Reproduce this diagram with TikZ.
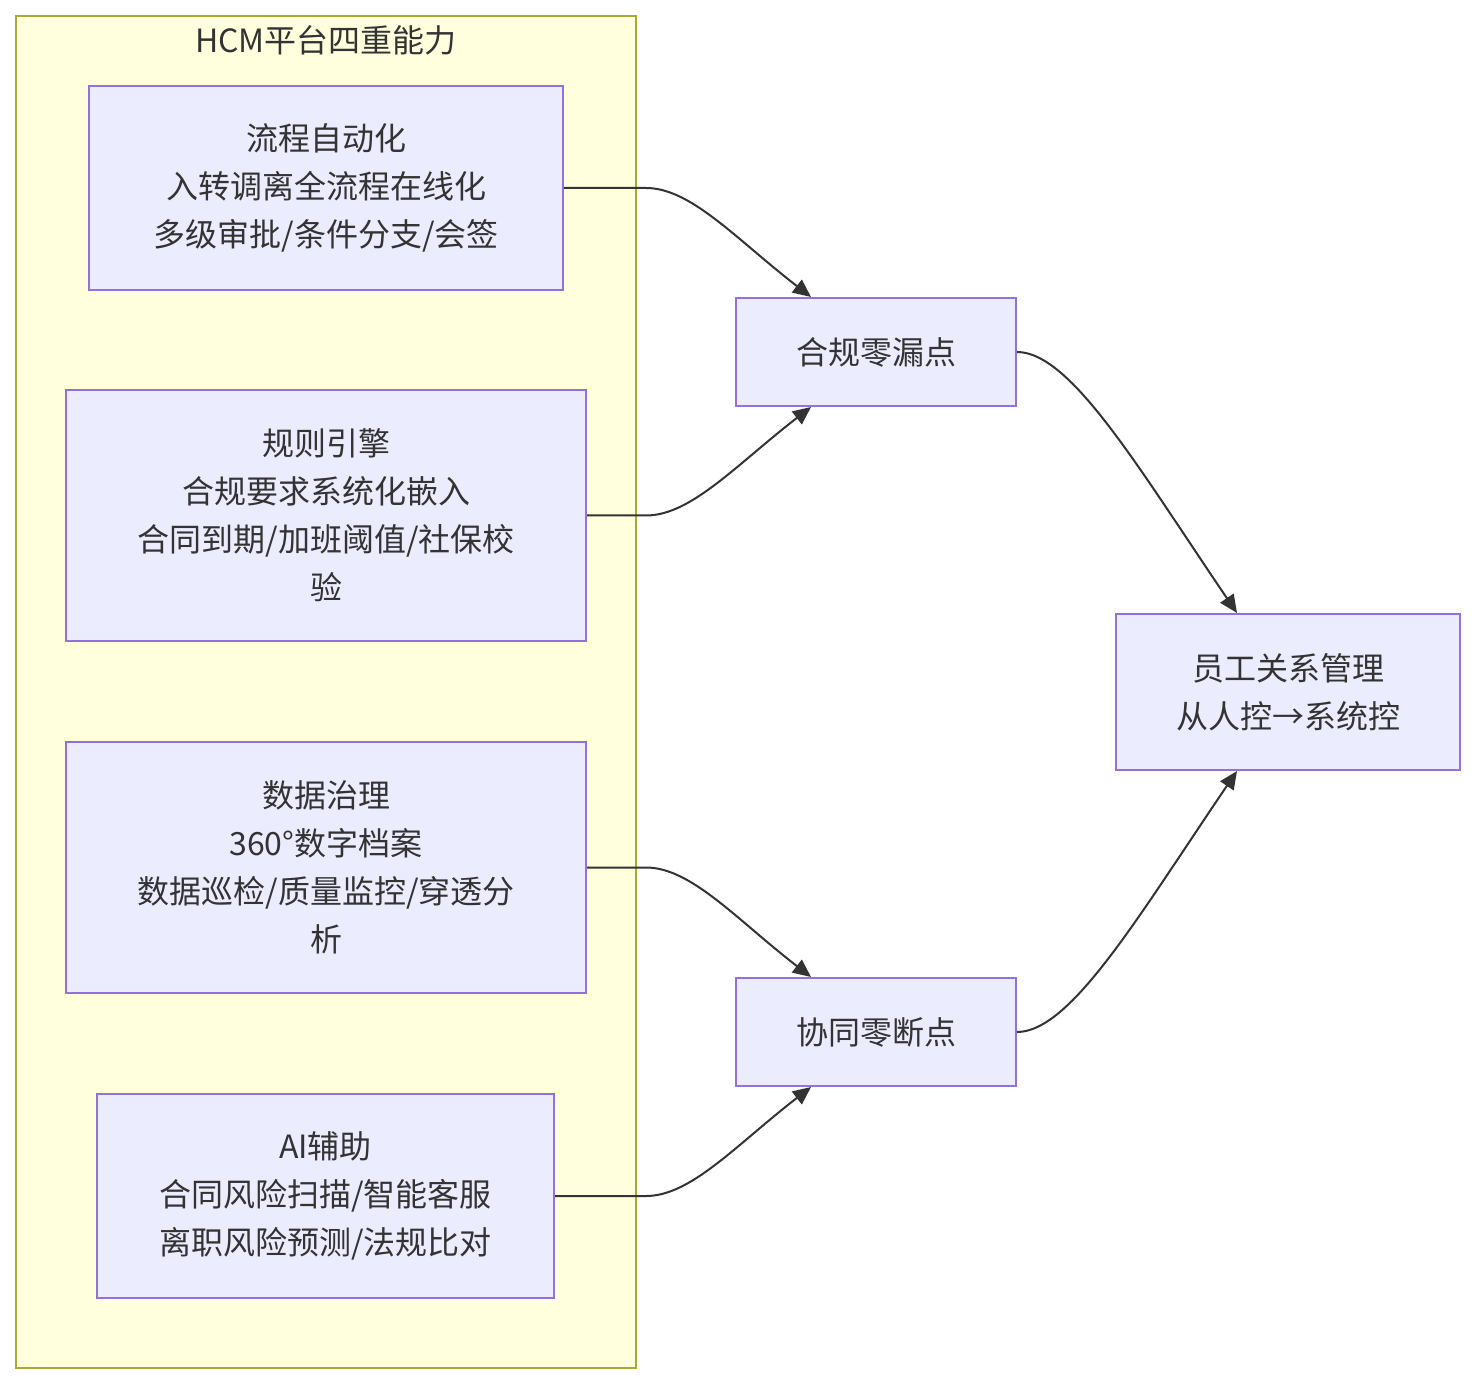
\documentclass[tikz,border=0pt]{standalone}
\usepackage{fontspec}
\setmainfont{Noto Sans CJK SC}
\usetikzlibrary{arrows.meta,calc}
\definecolor{boxfill}{HTML}{ECECFF}
\definecolor{boxline}{HTML}{9370DB}
\definecolor{grpfill}{HTML}{FFFFDE}
\definecolor{grpline}{HTML}{AAAA33}
\definecolor{ink}{HTML}{333333}
\tikzset{
	capbox/.style={draw=boxline, fill=boxfill, line width=1pt, align=center, inner sep=0pt, text=ink, font=\fontsize{16}{24}\selectfont},
	flow/.style={draw=ink, line width=1pt, -{Triangle[length=9pt,width=8pt]}}
}
\begin{document}
\begin{tikzpicture}[x=0.5pt,y=-0.5pt]
					\useasboundingbox (0,0) rectangle (1476,1384);
					\draw[fill=grpfill, draw=grpline, line width=1pt] (16,16) rectangle (636,1368);
					\node[text=ink, font=\fontsize{16}{24}\selectfont] (grptitle) at (326,40) {HCM平台四重能力};
					\node[capbox, minimum width=237pt, minimum height=102pt] (b1) at (326,188) {流程自动化\\入转调离全流程在线化\\多级审批/条件分支/会签};
					\node[capbox, minimum width=260pt, minimum height=125.5pt] (b2) at (326,515.5) {规则引擎\\合规要求系统化嵌入\\合同到期/加班阈值/社保校\\验};
					\node[capbox, minimum width=260pt, minimum height=125.5pt] (b3) at (326,867.5) {数据治理\\360°数字档案\\数据巡检/质量监控/穿透分\\析};
					\node[capbox, minimum width=228.5pt, minimum height=102pt] (b4) at (325.5,1196) {AI辅助\\合同风险扫描/智能客服\\离职风险预测/法规比对};
					\node[capbox, minimum width=140pt, minimum height=54pt] (comply) at (876,352) {合规零漏点};
					\node[capbox, minimum width=140pt, minimum height=54pt] (coop) at (876,1032) {协同零断点};
					\node[capbox, minimum width=172pt, minimum height=78pt] (emp) at (1288,692) {员工关系管理\\从人控→系统控};
					\draw[flow] (b1.east) -- ++(82,0) .. controls +(45,0) and +(-75,-58) .. ($(comply.north west)+(76,0)$);
					\draw[flow] (b2.east) -- ++(59,0) .. controls +(45,0) and +(-75,58) .. ($(comply.south west)+(76,0)$);
					\draw[flow] (b3.east) -- ++(59,0) .. controls +(45,0) and +(-75,-58) .. ($(coop.north west)+(76,0)$);
					\draw[flow] (b4.east) -- ++(91,0) .. controls +(45,0) and +(-75,58) .. ($(coop.south west)+(76,0)$);
					\draw[flow] (comply.east) .. controls +(54,0) and +(-98,-144) .. ($(emp.north west)+(122,0)$);
					\draw[flow] (coop.east) .. controls +(54,0) and +(-98,144) .. ($(emp.south west)+(122,0)$);
				\end{tikzpicture}
\end{document}
